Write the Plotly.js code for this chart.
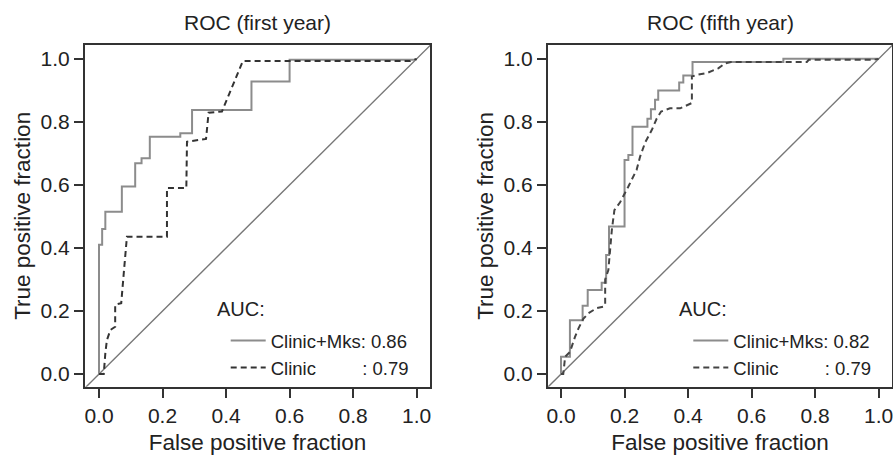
<!DOCTYPE html>
<html>
<head>
<meta charset="utf-8">
<script src="https://cdn.plot.ly/plotly-3.0.1.min.js"></script>
<style>html,body{margin:0;padding:0;background:#fff;}#chart{width:893px;height:455px;}</style>
</head>
<body>
<div id="chart"></div>
<script>
// ---- data ----
var panelTitles = ['ROC (first year)', 'ROC (fifth year)'];
var seriesNames = ['Clinic+Mks', 'Clinic'];
var aucFirst = ['0.86', '0.79'];
var aucFifth = ['0.82', '0.79'];
var tickVals = [0, 0.2, 0.4, 0.6, 0.8, 1.0];
var tickText = ['0.0', '0.2', '0.4', '0.6', '0.8', '1.0'];
var diagRef = [-0.1, 1.1];

// first year, Clinic+Mks
var fy_mks_x = [0, 0, 0.01, 0.01, 0.02, 0.02, 0.072, 0.072, 0.114, 0.114, 0.134, 0.134, 0.16, 0.16, 0.256, 0.256, 0.293, 0.293, 0.48, 0.48, 0.6, 0.6, 1.0];
var fy_mks_y = [0, 0.41, 0.41, 0.46, 0.46, 0.515, 0.515, 0.595, 0.595, 0.669, 0.669, 0.685, 0.685, 0.753, 0.753, 0.764, 0.764, 0.838, 0.838, 0.928, 0.928, 0.997, 0.997];
// first year, Clinic
var fy_cl_x = [0, 0.015, 0.02, 0.025, 0.036, 0.051, 0.051, 0.070, 0.078, 0.085, 0.088, 0.214, 0.214, 0.275, 0.277, 0.337, 0.345, 0.387, 0.41, 0.43, 0.453, 0.98, 1.0];
var fy_cl_y = [0, 0.0, 0.066, 0.108, 0.14, 0.15, 0.22, 0.225, 0.32, 0.40, 0.436, 0.436, 0.59, 0.59, 0.737, 0.746, 0.829, 0.833, 0.89, 0.94, 0.993, 0.993, 1.0];
// fifth year, Clinic+Mks
var fi_mks_x = [0, 0, 0.028, 0.028, 0.068, 0.068, 0.084, 0.084, 0.128, 0.128, 0.142, 0.142, 0.151, 0.151, 0.2, 0.2, 0.212, 0.212, 0.225, 0.225, 0.272, 0.272, 0.283, 0.283, 0.296, 0.296, 0.306, 0.306, 0.372, 0.372, 0.385, 0.385, 0.414, 0.414, 0.7, 0.7, 1.0];
var fi_mks_y = [0, 0.055, 0.055, 0.171, 0.171, 0.217, 0.217, 0.267, 0.267, 0.29, 0.29, 0.378, 0.378, 0.468, 0.468, 0.679, 0.679, 0.695, 0.695, 0.785, 0.785, 0.81, 0.81, 0.84, 0.84, 0.87, 0.87, 0.9, 0.9, 0.925, 0.925, 0.947, 0.947, 0.99, 0.99, 1.0, 1.0];
// fifth year, Clinic
var fi_cl_x = [0, 0.007, 0.013, 0.028, 0.044, 0.055, 0.07, 0.086, 0.112, 0.133, 0.139, 0.139, 0.149, 0.154, 0.16, 0.168, 0.186, 0.212, 0.228, 0.238, 0.249, 0.265, 0.286, 0.301, 0.315, 0.343, 0.375, 0.401, 0.412, 0.412, 0.427, 0.459, 0.495, 0.517, 0.535, 0.774, 0.78, 0.984, 1.0];
var fi_cl_y = [0, 0, 0.055, 0.07, 0.118, 0.145, 0.175, 0.193, 0.209, 0.214, 0.22, 0.30, 0.33, 0.39, 0.457, 0.52, 0.545, 0.595, 0.626, 0.648, 0.69, 0.735, 0.775, 0.81, 0.833, 0.843, 0.843, 0.854, 0.86, 0.944, 0.949, 0.955, 0.97, 0.986, 0.99, 0.99, 0.997, 0.997, 1.0];

// ---- styles ----
var W = 893, H = 455;
var FONT = 'Liberation Sans, Arial, Helvetica, sans-serif';
var TXT = '#222';
var solidStyle = {color: '#8c8c8c', width: 2};
var dashStyle = {color: '#333', width: 2, dash: '6px,4px'};
var dashStyle2 = {color: '#444', width: 2, dash: '6px,4px'};
var diagStyle = {color: '#777', width: 1.4};
var pad = '\u00a0';
function label(name, auc, nsp) { return name + pad.repeat(nsp) + ': ' + auc; }

var traces = [
  {x: diagRef, y: diagRef, xaxis: 'x', yaxis: 'y', mode: 'lines', line: diagStyle, showlegend: false, hoverinfo: 'skip'},
  {x: fy_mks_x, y: fy_mks_y, xaxis: 'x', yaxis: 'y', mode: 'lines', line: solidStyle, name: label(seriesNames[0], aucFirst[0], 0), legend: 'legend'},
  {x: fy_cl_x, y: fy_cl_y, xaxis: 'x', yaxis: 'y', mode: 'lines', line: dashStyle, name: label(seriesNames[1], aucFirst[1], 9), legend: 'legend'},
  {x: diagRef, y: diagRef, xaxis: 'x2', yaxis: 'y2', mode: 'lines', line: diagStyle, showlegend: false, hoverinfo: 'skip'},
  {x: fi_mks_x, y: fi_mks_y, xaxis: 'x2', yaxis: 'y2', mode: 'lines', line: solidStyle, name: label(seriesNames[0], aucFifth[0], 0), legend: 'legend2'},
  {x: fi_cl_x, y: fi_cl_y, xaxis: 'x2', yaxis: 'y2', mode: 'lines', line: dashStyle2, name: label(seriesNames[1], aucFifth[1], 9), legend: 'legend2'}
];

var titleFont = {family: FONT, size: 22.5, color: TXT};
function axisBase(extra) {
  var a = {
    showline: true, mirror: true, linecolor: '#333', linewidth: 2,
    ticks: 'outside', ticklen: 9, tickwidth: 2, tickcolor: '#333',
    showgrid: false, zeroline: false, fixedrange: true,
    tickmode: 'array', tickvals: tickVals, ticktext: tickText,
    ticklabeloverflow: 'allow',
    tickfont: {family: FONT, size: 21, color: TXT}
  };
  for (var k in extra) a[k] = extra[k];
  return a;
}
var yDom = [(H - 386.7) / H, (H - 45) / H];
var legendBase = {
  bgcolor: 'rgba(0,0,0,0)', borderwidth: 0, xanchor: 'left', yanchor: 'top',
  itemwidth: 35, tracegroupgap: 0,
  font: {family: FONT, size: 18.5, color: TXT}
};
function leg(x, y) { var o = {}; for (var k in legendBase) o[k] = legendBase[k]; o.x = x; o.y = y; return o; }

var layout = {
  width: W, height: H,
  margin: {l: 0, r: 0, t: 0, b: 0},
  paper_bgcolor: '#fff', plot_bgcolor: '#fff',
  font: {family: FONT, size: 19, color: TXT},
  showlegend: true,
  xaxis: axisBase({domain: [85 / W, 430 / W], range: [-0.044, 1.042], anchor: 'y',
    title: {text: 'False positive fraction', font: titleFont, standoff: 8}}),
  yaxis: axisBase({domain: yDom, range: [-0.04, 1.044], anchor: 'x',
    title: {text: 'True positive fraction', font: titleFont, standoff: 4}}),
  xaxis2: axisBase({domain: [548 / W, 892 / W], range: [-0.041, 1.042], anchor: 'y2',
    title: {text: 'False positive fraction', font: titleFont, standoff: 8}}),
  yaxis2: axisBase({domain: yDom, range: [-0.04, 1.044], anchor: 'x2',
    title: {text: 'True positive fraction', font: titleFont, standoff: 4}}),
  legend: leg(225.7 / W, (H - 322) / H),
  legend2: leg(688.3 / W, (H - 322) / H),
  annotations: [
    {text: panelTitles[0], xref: 'x domain', yref: 'paper', x: 0.5, y: (H - 22) / H, xanchor: 'center', yanchor: 'middle', showarrow: false, font: {family: FONT, size: 21, color: TXT}},
    {text: panelTitles[1], xref: 'x2 domain', yref: 'paper', x: 0.5, y: (H - 22) / H, xanchor: 'center', yanchor: 'middle', showarrow: false, font: {family: FONT, size: 21, color: TXT}},
    {text: 'AUC:', xref: 'paper', yref: 'paper', x: 215 / W, y: (H - 309) / H, xanchor: 'left', yanchor: 'middle', showarrow: false, font: {family: FONT, size: 20, color: TXT}},
    {text: 'AUC:', xref: 'paper', yref: 'paper', x: 676.7 / W, y: (H - 309) / H, xanchor: 'left', yanchor: 'middle', showarrow: false, font: {family: FONT, size: 20, color: TXT}}
  ]
};

Plotly.newPlot('chart', traces, layout, {displayModeBar: false, staticPlot: true});
</script>
</body>
</html>
